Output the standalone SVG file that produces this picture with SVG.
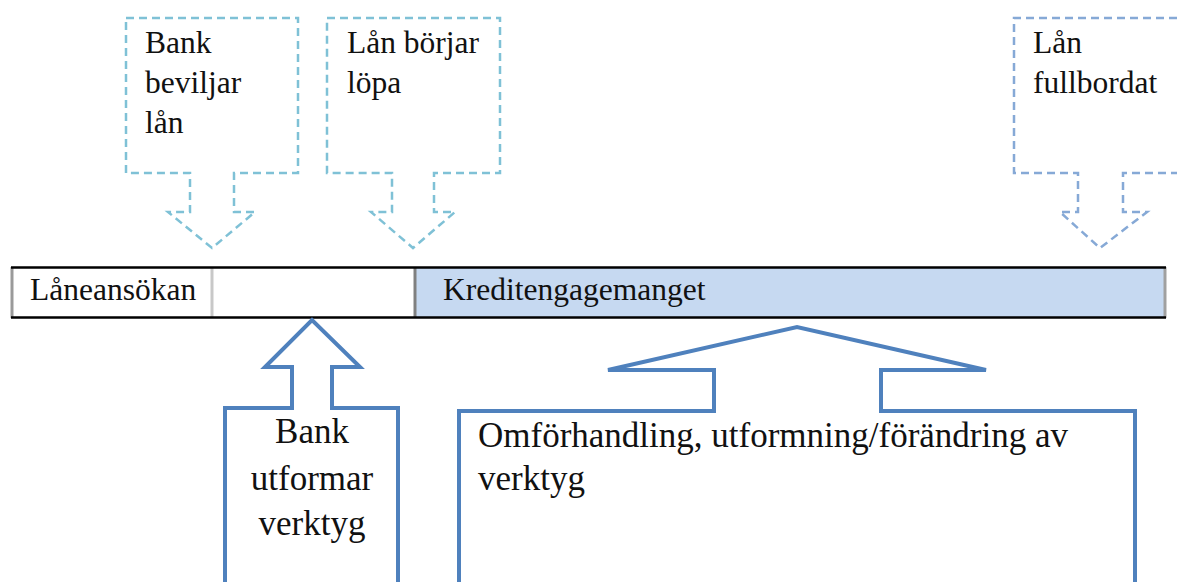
<svg xmlns="http://www.w3.org/2000/svg" width="1177" height="582" viewBox="0 0 1177 582">
  <style>
    text { font-family: "Liberation Serif", "Times New Roman", serif; fill: #111; }
    .t31 { font-size: 31.5px; }
    .t35 { font-size: 35px; }
    .callout { fill: #fff; stroke-width: 2.5; stroke-dasharray: 8 5; }
    .cyan { stroke: #7fc1d6; }
    .blue { stroke: #86a9d6; }
    .up { fill: #fff; stroke: #4f81bd; stroke-width: 4; stroke-linejoin: miter; }
  </style>
  <rect width="1177" height="582" fill="#fff"/>

  <!-- timeline bar -->
  <g id="timeline">
    <rect x="12" y="267" width="200" height="51" fill="#fff"/>
    <rect x="212" y="267" width="203" height="51" fill="#fff"/>
    <rect x="415" y="267" width="750" height="51" fill="#c6d9f1"/>
    <line x1="12" y1="267" x2="12" y2="318" stroke="#9a9a9a" stroke-width="3"/>
    <line x1="212" y1="267" x2="212" y2="318" stroke="#c8c8c8" stroke-width="3"/>
    <line x1="415" y1="267" x2="415" y2="318" stroke="#808080" stroke-width="3"/>
    <line x1="1165" y1="267" x2="1165" y2="318" stroke="#a0a0a0" stroke-width="3"/>
    <line x1="11" y1="267.5" x2="1166" y2="267.5" stroke="#000" stroke-width="2.5"/>
    <line x1="11" y1="317.5" x2="1166" y2="317.5" stroke="#000" stroke-width="2.5"/>
    <text class="t31" x="30" y="300">Låneansökan</text>
    <text class="t31" x="443" y="300">Kreditengagemanget</text>
  </g>

  <!-- milestone callouts above the bar -->
  <g id="bank-beviljar">
    <path class="callout cyan" d="M126,18 H298 V173 H234 V212 H255 L212,248 L168,212 H190 V173 H126 Z"/>
    <text class="t31" x="145" y="53">Bank</text>
    <text class="t31" x="145" y="93">beviljar</text>
    <text class="t31" x="145" y="133">lån</text>
  </g>
  <g id="lan-borjar">
    <path class="callout cyan" d="M327,18 H500 V173 H434 V212 H455 L413,248 L371,212 H392 V173 H327 Z"/>
    <text class="t31" x="347" y="53">Lån börjar</text>
    <text class="t31" x="347" y="93">löpa</text>
  </g>
  <g id="lan-fullbordat">
    <path class="callout blue" d="M1190,18 H1014 V173 H1078 V212 H1060 L1100,248 L1147,212 H1123 V173 H1190"/>
    <text class="t31" x="1033" y="53">Lån</text>
    <text class="t31" x="1033" y="93">fullbordat</text>
  </g>

  <!-- activities pointing up into the bar -->
  <g id="bank-utformar">
    <path class="up" d="M225,590 V408 H292 V367 H265 L312,320 L360,367 H332 V408 H398 V590"/>
    <text class="t35" x="312" y="443" text-anchor="middle">Bank</text>
    <text class="t35" x="312" y="490" text-anchor="middle">utformar</text>
    <text class="t35" x="312" y="535" text-anchor="middle">verktyg</text>
  </g>
  <g id="omforhandling">
    <path class="up" d="M459,590 V411 H714 V370 H608 L797,327 L986,370 H881 V411 H1135 V590"/>
    <text class="t35" x="478" y="447">Omförhandling, utformning/förändring av</text>
    <text class="t35" x="478" y="490">verktyg</text>
  </g>
</svg>
